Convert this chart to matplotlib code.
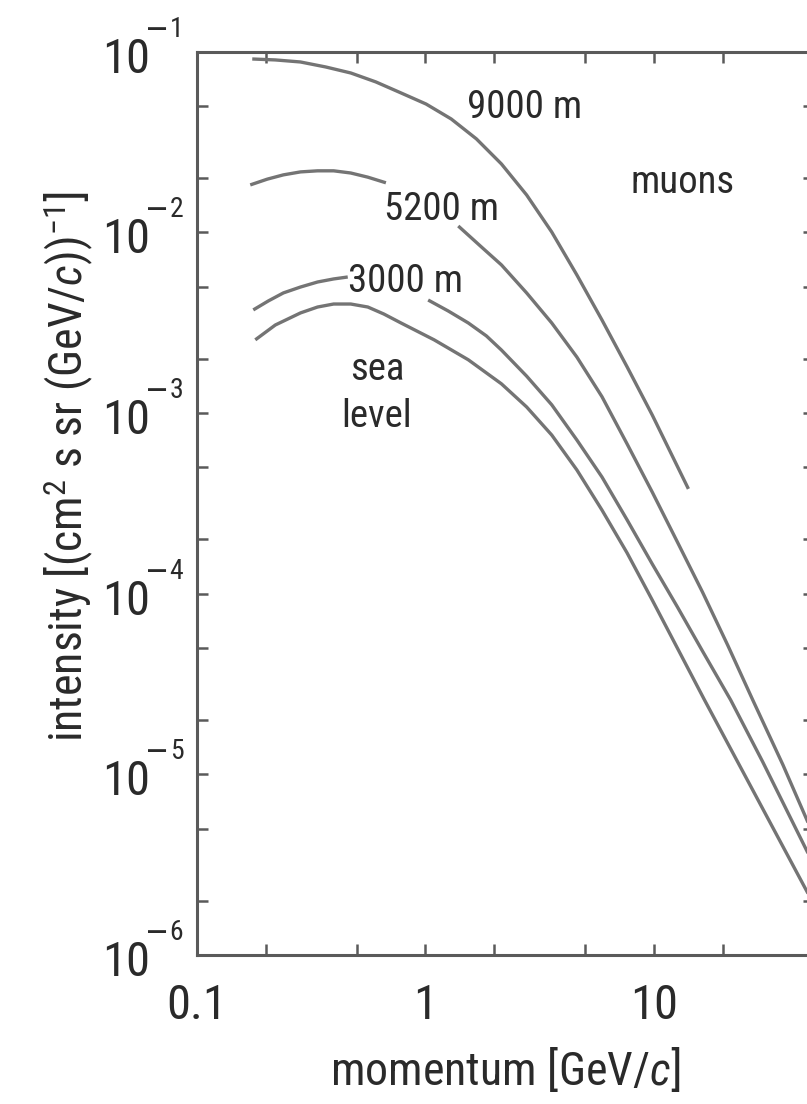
import matplotlib
matplotlib.use("Agg")
import matplotlib.pyplot as plt
from matplotlib import font_manager as fm
from matplotlib.transforms import offset_copy
from matplotlib.ticker import LogLocator, NullFormatter


def pick_condensed():
    # look for a narrow sans that is actually installed
    prefer = ['Liberation Sans Narrow', 'Roboto Condensed', 'DejaVu Sans', 'Noto Sans', 'Open Sans', 'Roboto']
    found = {}
    for f in fm.fontManager.ttflist:
        if f.style != 'normal':
            continue
        if f.stretch in ('condensed', 'semi-condensed') or 'Narrow' in f.name or 'Condensed' in f.name:
            found.setdefault(f.name, f.stretch)
    for n in prefer:
        if n in found:
            return n, found[n]
    return 'Liberation Sans', 'normal'


font_name, font_stretch = pick_condensed()
plt.rcParams['font.family'] = [font_name, 'DejaVu Sans']
plt.rcParams['font.stretch'] = font_stretch
plt.rcParams['mathtext.fontset'] = 'custom'
plt.rcParams['mathtext.rm'] = font_name
plt.rcParams['mathtext.it'] = font_name + ':italic'

# momentum [GeV/c] and intensity
p_9000 = [0.175, 0.2208, 0.284, 0.3663, 0.472, 0.6072, 0.782, 1.007, 1.297, 1.671, 2.150, 2.770,
          3.567, 4.593, 5.916, 7.617, 9.81, 14.12]
i_9000 = [0.0911, 0.0900, 0.0877, 0.0823, 0.0762, 0.0680, 0.0591, 0.0513, 0.0424, 0.0329, 0.0239,
          0.0161, 0.01004, 0.00581, 0.00327, 0.00180, 0.000975, 0.000380]

p_5200_a = [0.1715, 0.2037, 0.2394, 0.2844, 0.3378, 0.397, 0.4717, 0.560, 0.672]
i_5200_a = [0.0183, 0.0197, 0.0208, 0.0216, 0.0219, 0.0219, 0.0213, 0.0202, 0.0188]
p_5200_b = [1.392, 1.757, 2.150, 2.770, 3.567, 4.593, 5.916, 7.617, 9.81, 12.64, 16.27, 20.95,
            26.98, 36.54, 48.0, 54.8]
i_5200_b = [0.01084, 0.0083, 0.0066, 0.00462, 0.00315, 0.00204, 0.00123, 0.000674, 0.000365,
            0.000193, 0.000102, 5.2e-5, 2.58e-5, 1.13e-5, 5.11e-6, 3.53e-6]

p_3000_a = [0.1768, 0.2057, 0.2394, 0.2844, 0.3378, 0.397, 0.4576]
i_3000_a = [0.00372, 0.00417, 0.00462, 0.00498, 0.00531, 0.00552, 0.00566]
p_3000_b = [1.028, 1.258, 1.540, 1.848, 2.150, 2.770, 3.567, 4.593, 5.916, 7.617, 9.81, 12.64,
            16.27, 21.60, 29.85, 48.0, 54.8]
i_3000_b = [0.00422, 0.00367, 0.00315, 0.00267, 0.00223, 0.00160, 0.00111, 0.000709, 0.000442,
            0.000256, 0.000146, 8.44e-5, 4.81e-5, 2.58e-5, 1.17e-5, 3.48e-6, 2.5e-6]

p_sea = [0.1804, 0.2208, 0.2844, 0.3378, 0.397, 0.4717, 0.560, 0.6582, 0.782, 1.092, 1.540, 2.150,
         2.770, 3.567, 4.593, 5.916, 7.617, 9.81, 16.60, 26.98, 48.0, 54.8]
i_sea = [0.00254, 0.00307, 0.00358, 0.00386, 0.00401, 0.00401, 0.00386, 0.00353, 0.00315, 0.00254,
         0.00197, 0.00145, 0.00108, 0.000755, 0.000484, 0.000290, 0.000168, 9.22e-5, 2.58e-5,
         8.18e-6, 2.09e-6, 1.52e-6]

x_ticks = [0.1, 1, 10]
x_ticklabels = ['0.1', '1', '10']
y_ticks = [1e-6, 1e-5, 1e-4, 1e-3, 1e-2, 1e-1]
y_exponents = ['6', '5', '4', '3', '2', '1']   # all negative

line_col = '#747474'
axis_col = '#5a5a5a'
text_col = '#2a2a2a'

fig = plt.figure(figsize=(8.07, 11.04), dpi=100)
ax = fig.add_axes([0.2437, 0.135, 0.765, 0.8182])

lw = 2.4
for px, iy in [(p_9000, i_9000), (p_5200_a, i_5200_a), (p_5200_b, i_5200_b),
               (p_3000_a, i_3000_a), (p_3000_b, i_3000_b), (p_sea, i_sea)]:
    ax.plot(px, iy, color=line_col, lw=lw, solid_capstyle='butt', solid_joinstyle='round')

ax.set_xscale('log')
ax.set_yscale('log')
ax.set_xlim(0.1, 50)
ax.set_ylim(1e-6, 1e-1)

ax.set_xticks(x_ticks)
ax.set_xticklabels(x_ticklabels)
ax.set_yticks(y_ticks)
ax.set_yticklabels([])
ax.xaxis.set_minor_locator(LogLocator(base=10, subs=(2.0, 5.0)))
ax.yaxis.set_minor_locator(LogLocator(base=10, subs=(2.0, 5.0)))
ax.xaxis.set_minor_formatter(NullFormatter())
ax.yaxis.set_minor_formatter(NullFormatter())

for s in ax.spines.values():
    s.set_color(axis_col)
    s.set_linewidth(2.2)
ax.tick_params(which='both', direction='in', top=True, right=True, length=8, width=1.8,
               color=axis_col, labelcolor=text_col, labelsize=35)
ax.tick_params(axis='x', which='major', pad=20)

# y tick labels: "10" with a raised, long-minus exponent
ytr = ax.get_yaxis_transform()
for v, e in zip(y_ticks, y_exponents):
    ax.text(0, v, '10', fontsize=35, color=text_col, ha='right', va='baseline', clip_on=False,
            transform=offset_copy(ytr, fig=fig, x=-47, y=-21, units='dots'))
    ax.text(0, v, '\u2212', fontsize=23, family='DejaVu Sans', color=text_col, ha='left',
            va='baseline', clip_on=False,
            transform=offset_copy(ytr, fig=fig, x=-52, y=13, units='dots'))
    ax.text(0, v, e, fontsize=20, color=text_col, ha='left', va='baseline', clip_on=False,
            transform=offset_copy(ytr, fig=fig, x=-27, y=15, units='dots'))

ax.set_xlabel(r'momentum [GeV/$\mathit{c}$]', fontsize=33, color=text_col, labelpad=12)
ax.set_ylabel(r'intensity [(cm$^{2}$ s sr (GeV/$\mathit{c}$))$^{-1}$]', fontsize=33,
              color=text_col)
ax.yaxis.set_label_coords(-0.163, 0.541)

fs = 28
ax.text(2.715, 0.04295, '9000 m', fontsize=fs, color=text_col, ha='center', va='baseline')
ax.text(1.172, 0.01171, '5200 m', fontsize=fs, color=text_col, ha='center', va='baseline')
ax.text(0.8144, 0.004675, '3000 m', fontsize=fs, color=text_col, ha='center', va='baseline')
ax.text(0.6133, 0.001523, 'sea', fontsize=fs, color=text_col, ha='center', va='baseline')
ax.text(0.6133, 0.000837, 'level', fontsize=fs, color=text_col, ha='center', va='baseline')
ax.text(13.29, 0.01651, 'muons', fontsize=fs, color=text_col, ha='center', va='baseline')

fig.savefig('out.png', dpi=100)
